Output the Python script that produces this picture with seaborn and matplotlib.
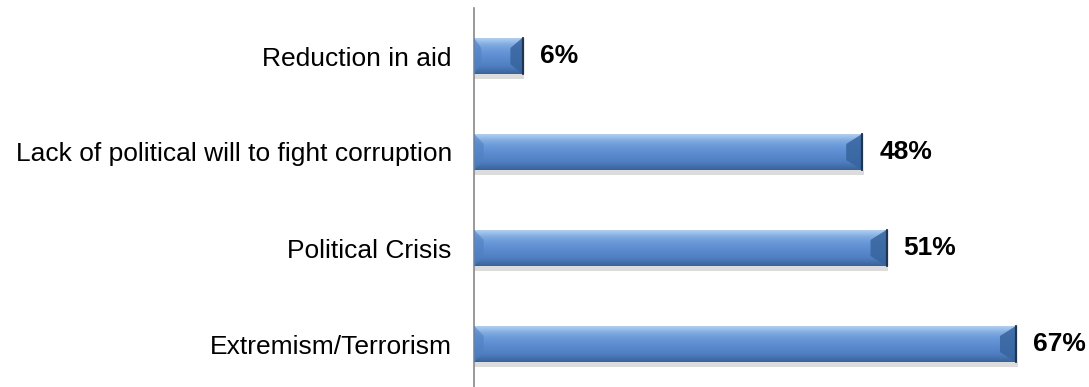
import numpy as np
import pandas as pd
import matplotlib
matplotlib.use("Agg")
import matplotlib.pyplot as plt
import seaborn as sns
from matplotlib.colors import LinearSegmentedColormap

categories = ["Reduction in aid",
              "Lack of political will to fight corruption",
              "Political Crisis",
              "Extremism/Terrorism"]
values = [6, 48, 51, 67]

df = pd.DataFrame({"category": categories, "value": values})

sns.set_theme(style="white")
plt.rcParams["font.family"] = ["Liberation Sans", "DejaVu Sans"]

fig = plt.figure(figsize=(10.89, 3.87), dpi=100)
ax = fig.add_axes([474 / 1089, -5 / 387, 615 / 1089, 384 / 387])

sns.barplot(data=df, x="value", y="category", orient="h", ax=ax,
            color="#5B8BD0", width=0.38, saturation=1, edgecolor="none")

ax.set_xlim(0, 76)
ax.set_ylim(3.5, -0.5)

# beveled gradient fill over each bar
grad = LinearSegmentedColormap.from_list(
    "bevel", ["#B9D3F2", "#7FAAE2", "#6595D6", "#5A8ACD", "#4E7DC0", "#3A6399"])
gimg = np.linspace(0, 1, 64).reshape(-1, 1)
for p in ax.patches:
    x0, y0 = p.get_x(), p.get_y()
    w, h = p.get_width(), p.get_height()
    # soft shadow under the bar
    ax.add_patch(plt.Rectangle((x0, y0 + h), w + 0.2, 0.05,
                               color="#DCDCDC", lw=0, zorder=1))
    im = ax.imshow(gimg, cmap=grad, aspect="auto",
                   extent=(x0, x0 + w, y0 + h, y0), zorder=2,
                   interpolation="bilinear")
    im.set_clip_path(p)
    bw = min(2.0, w * 0.25)
    bh = h * 0.28
    # right and left bevel faces
    ax.add_patch(plt.Polygon([(x0 + w, y0), (x0 + w, y0 + h),
                              (x0 + w - bw, y0 + h - bh), (x0 + w - bw, y0 + bh)],
                             color="#36649E", lw=0, zorder=3, alpha=0.85))
    ax.add_patch(plt.Polygon([(x0, y0), (x0, y0 + h),
                              (x0 + bw * 0.6, y0 + h - bh), (x0 + bw * 0.6, y0 + bh)],
                             color="#4F80C2", lw=0, zorder=3, alpha=0.6))
    ax.plot([x0 + w, x0 + w], [y0, y0 + h], color="#1F3550", lw=1.6, zorder=4)
    ax.text(x0 + w + 2.1, y0 + h / 2, f"{w:g}%", va="center", ha="left",
            fontsize=19, fontweight="bold", color="black")

for s in ["top", "right", "bottom"]:
    ax.spines[s].set_visible(False)
ax.spines["left"].set_color("#888888")
ax.spines["left"].set_linewidth(1.2)
ax.set_xticks([])
ax.set_xlabel("")
ax.set_ylabel("")
ax.tick_params(axis="y", length=0, pad=16, labelsize=19, labelcolor="black")

fig.savefig("out.png", dpi=100)
